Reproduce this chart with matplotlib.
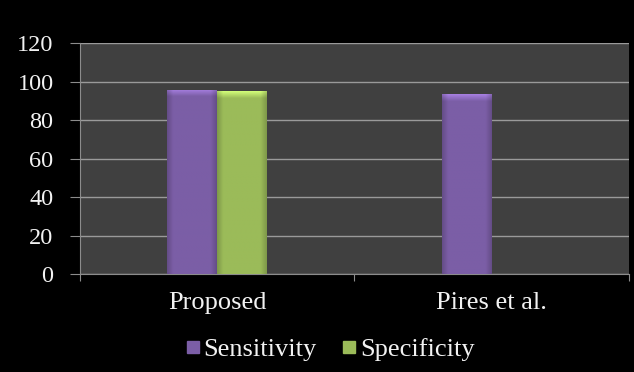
import numpy as np
import matplotlib.pyplot as plt
from matplotlib.colors import to_rgb
from matplotlib.lines import Line2D

# Data
categories = ['Proposed', 'Pires et al.']
sensitivity = [95.8, 93.5]
specificity = [95.0, np.nan]
series_names = ['Sensitivity', 'Specificity']
series_colors = ['#7b5ea6', '#9bbb59']
yticks = [0, 20, 40, 60, 80, 100, 120]

plt.rcParams['font.family'] = ['Liberation Serif', 'DejaVu Serif']
txt = '#f2f2f2'

fig = plt.figure(figsize=(6.34, 3.72), dpi=100, facecolor='black')
ax = fig.add_axes([0.126, 0.263, 0.866, 0.621])
ax.set_facecolor('#404040')

x = np.arange(len(categories))
w = 0.182


def shade(bar, color):
    # rough bevel look: darker edges, lighter top
    x0, y0 = bar.get_x(), bar.get_y()
    bw, bh = bar.get_width(), bar.get_height()
    if not np.isfinite(bh) or bh <= 0:
        return
    nx, ny = 60, 200
    u = np.linspace(0, 1, nx)
    v = np.linspace(0, 1, ny)
    side = 0.82 + 0.18 * np.clip(np.minimum(u, 1 - u) / 0.12, 0, 1)
    top_px = 3.5 / bh  # fraction of height for the highlight band
    top = 1 + 0.35 * np.clip(1 - (1 - v) / top_px, 0, 1)
    base = np.array(to_rgb(color))
    img = np.clip(base[None, None, :] * side[None, :, None] * top[:, None, None], 0, 1)
    im = ax.imshow(img, extent=(x0, x0 + bw, y0, y0 + bh), origin='lower',
                   aspect='auto', zorder=3, interpolation='bilinear')
    im.set_clip_path(bar)


b1 = ax.bar(x - w / 2, sensitivity, w, color=series_colors[0], zorder=2)
b2 = ax.bar(x + w / 2, specificity, w, color=series_colors[1], zorder=2)
for bars, c in [(b1, series_colors[0]), (b2, series_colors[1])]:
    for b in bars:
        shade(b, c)

ax.set_xlim(-0.5, 1.5)
ax.set_ylim(0, 120)
ax.set_yticks(yticks)
ax.yaxis.grid(True, color='#9a9a9a', linewidth=1)
ax.set_axisbelow(True)

ax.set_xticks([-0.5, 0.5, 1.5])
ax.set_xticklabels([])
ax.set_xticks(x, minor=True)
ax.set_xticklabels(categories, minor=True)
ax.tick_params(axis='x', which='major', length=5, color='#8c8c8c', direction='out')
ax.tick_params(axis='x', which='minor', length=0, pad=13, labelsize=19, labelcolor=txt)
ax.tick_params(axis='y', length=7, color='#8c8c8c', labelsize=17.5, labelcolor=txt, pad=12)

for s in ['top', 'right']:
    ax.spines[s].set_visible(False)
for s in ['left', 'bottom']:
    ax.spines[s].set_color('#8c8c8c')

handles = [Line2D([], [], marker='s', linestyle='none', markersize=8,
                  markerfacecolor=c, markeredgecolor=c) for c in series_colors]
fig.legend(handles, series_names, loc='center', bbox_to_anchor=(0.519, 0.06),
           ncol=2, frameon=False, fontsize=19, labelcolor=txt,
           handletextpad=0.05, columnspacing=0.9, handlelength=0.7)

fig.savefig('out.png', dpi=100, facecolor='black')
